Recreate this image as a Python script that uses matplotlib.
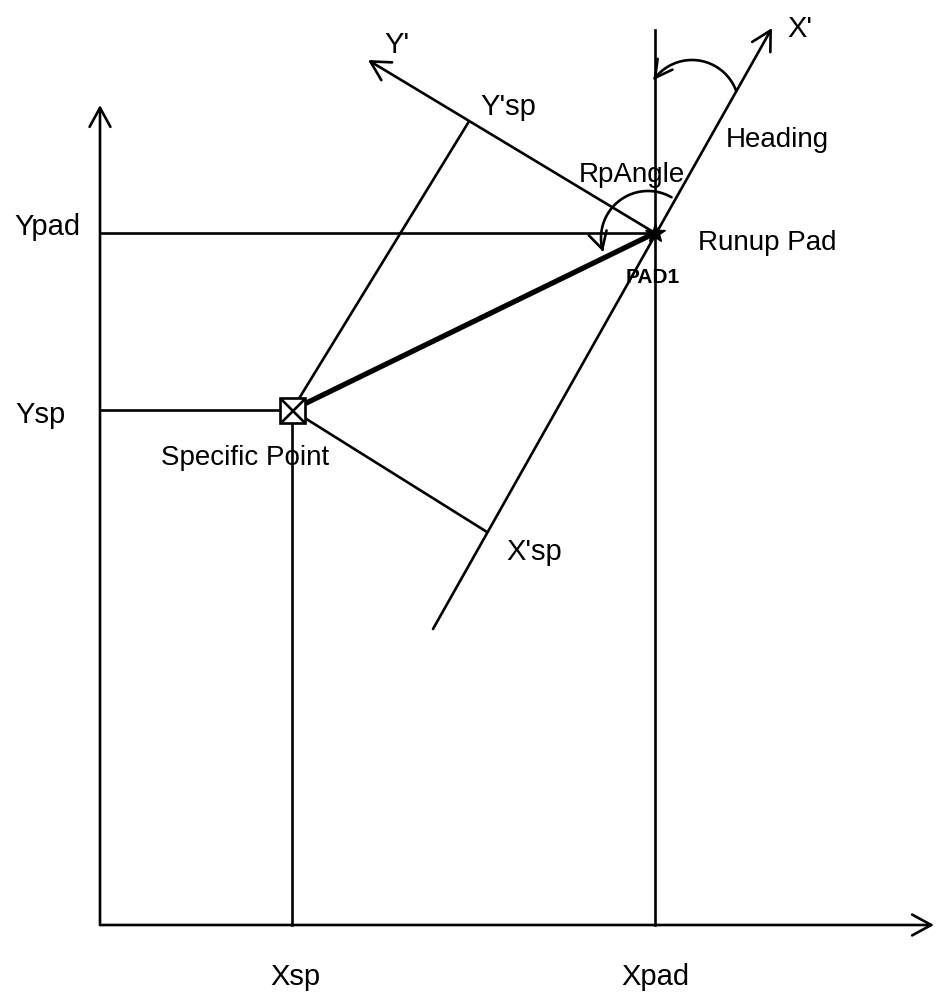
"""
Runup pad geometry sketch: world X/Y axes, the rotated pad frame X'/Y'
and the projections of a specific point onto that frame.
"""

import numpy as np
import matplotlib.pyplot as plt
from matplotlib.patches import FancyArrowPatch
from matplotlib.path import Path

# picture coordinates (pixels, y grows downwards)
origin = (100, 925)
x_axis_tip = (934, 925)
y_axis_tip = (100, 105)
pad = (655, 233)
pad_line_top = 30
sp = (292, 410)
xprime_tail = (433, 629)
xprime_tip = (772, 28)
yprime_tip = (368, 60)
yprime_foot = (468, 123)
xprime_foot = (487, 532)

# arcs: centre, radius, start/end angle in degrees
heading_arc = ((692, 107), 47, 20, 145)
rpangle_arc = ((648, 238), 47, 60, 197)

labels = ["Y'", "X'", "Y'sp", "Heading", "RpAngle", "Runup Pad", "PAD1",
          "Ypad", "Ysp", "Specific Point", "X'sp", "Xsp", "Xpad"]
label_x = [397, 800, 508, 777, 632, 767, 653, 47, 40, 245, 534, 295, 655]
label_y = [53, 37, 115, 147, 182, 250, 283, 235, 423, 465, 560, 985, 985]
label_size = [21, 21, 21, 20, 20, 20, 15, 21, 21, 20, 21, 21, 21]

LW = 1.9
HEAD = "->,head_length=0.55,head_width=0.3"


def arrow(ax, start, end):
    ax.annotate("", xy=end, xytext=start,
                arrowprops=dict(arrowstyle=HEAD, lw=LW, color="black",
                                mutation_scale=25, shrinkA=0, shrinkB=0))


def arc_arrow(ax, arc):
    (cx, cy), r, a0, a1 = arc
    t = np.radians(np.linspace(a0, a1, 60))
    pts = np.column_stack([cx + r * np.cos(t), cy - r * np.sin(t)])
    p = FancyArrowPatch(path=Path(pts), arrowstyle=HEAD, lw=LW,
                        color="black", mutation_scale=22)
    ax.add_patch(p)


def main():
    plt.rcParams["font.family"] = ["Liberation Sans", "DejaVu Sans"]
    fig = plt.figure(figsize=(9.36, 9.94), dpi=100)
    ax = fig.add_axes([0, 0, 1, 1])
    ax.set_xlim(0, 936)
    ax.set_ylim(994, 0)
    ax.axis("off")

    # world axes
    arrow(ax, origin, x_axis_tip)
    arrow(ax, origin, y_axis_tip)

    # vertical through the pad, horizontals to the y axis
    ax.plot([pad[0], pad[0]], [origin[1], pad_line_top], color="black", lw=LW)
    ax.plot([origin[0], pad[0]], [pad[1], pad[1]], color="black", lw=LW)
    ax.plot([origin[0], sp[0] - 13], [sp[1], sp[1]], color="black", lw=LW)
    ax.plot([sp[0], sp[0]], [sp[1] + 13, origin[1]], color="black", lw=LW)

    # rotated pad frame
    arrow(ax, xprime_tail, xprime_tip)
    arrow(ax, pad, yprime_tip)

    # projections of the specific point
    ax.plot([sp[0], yprime_foot[0]], [sp[1], yprime_foot[1]], color="black", lw=LW)
    ax.plot([sp[0], xprime_foot[0]], [sp[1], xprime_foot[1]], color="black", lw=LW)

    # pad -> specific point
    ax.plot([sp[0], pad[0]], [sp[1], pad[1]], color="black", lw=3.8,
            solid_capstyle="butt")

    arc_arrow(ax, heading_arc)
    arc_arrow(ax, rpangle_arc)

    ax.plot(sp[0], sp[1], marker="s", ms=18, mfc="white", mec="black", mew=LW)
    ax.plot(sp[0], sp[1], marker="x", ms=18, mec="black", mew=LW)
    ax.plot(pad[0], pad[1], marker="*", ms=15, color="black")

    for text, x, y, s in zip(labels, label_x, label_y, label_size):
        weight = "bold" if text == "PAD1" else "normal"
        ax.text(x, y, text, fontsize=s, ha="center", va="baseline",
                fontweight=weight)

    fig.savefig("out.png")


if __name__ == "__main__":
    main()
